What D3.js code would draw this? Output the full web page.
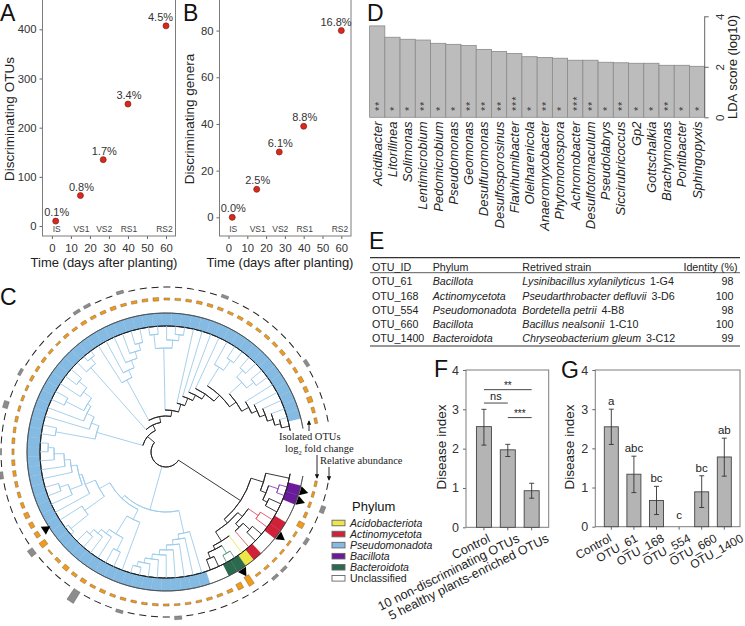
<!DOCTYPE html>
<html>
<head>
<meta charset="utf-8">
<script src="https://cdn.jsdelivr.net/npm/d3@7/dist/d3.min.js"></script>
<style>
    html, body { margin: 0; padding: 0; background: #fff; }
    svg { display: block; font-family: "Liberation Sans", Arial, sans-serif; }
    .frame { fill: none; stroke: #7c7c7c; stroke-width: 1; }
    .axis path { display: none; }
    .axis line { stroke: #666; }
    .axis text { fill: #333; font-family: "Liberation Sans", Arial, sans-serif; }
    .title { fill: #222; font-size: 13px; }
    .letter { fill: #111; font-size: 23px; }
</style>
</head>
<body>
<div id="chart"></div>
<script>
///// DATOS /////
// A, B
let days = [2, 15, 27, 40, 60];
let stages = ['IS', 'VS1', 'VS2', 'RS1', 'RS2'];
let otuCounts = [10, 62, 135, 248, 407];
let otuPct = ['0.1%', '0.8%', '1.7%', '3.4%', '4.5%'];
let genusCounts = [0, 12, 28, 39, 80];
let genusPct = ['0.0%', '2.5%', '6.1%', '8.8%', '16.8%'];
let dayTicks = [0, 10, 20, 30, 40, 50, 60];
let otuTicks = [0, 100, 200, 300, 400];
let genusTicks = [0, 20, 40, 60, 80];

// D
let genera = ['Acidibacter', 'Litorilinea', 'Solimonas', 'Lentimicrobium', 'Pedomicrobium', 'Pseudomonas', 'Geomonas', 'Desulfuromonas', 'Desulfosporosinus', 'Flavihumibacter', 'Oleiharenicola', 'Anaeromyxobacter', 'Phytomonospora', 'Achromobacter', 'Desulfotomaculum', 'Pseudolabrys', 'Siccirubricoccus', 'Gp2', 'Gottschalkia', 'Brachymonas', 'Pontibacter', 'Sphingopyxis'];
let ldaScores = [3.62, 3.17, 3.09, 3.06, 2.93, 2.89, 2.84, 2.69, 2.61, 2.53, 2.40, 2.37, 2.34, 2.26, 2.26, 2.18, 2.16, 2.14, 2.14, 2.06, 2.06, 2.02];
let ldaStars = ['**', '*', '*', '**', '*', '*', '**', '**', '**', '***', '*', '**', '*', '***', '**', '*', '**', '*', '*', '**', '*', '*'];
let ldaTicks = [0, 2, 4];

// E
let tableHeader = ['OTU_ID', 'Phylum', 'Retrived strain', 'Identity (%)'];
let tableOtu = ['OTU_61', 'OTU_168', 'OTU_554', 'OTU_660', 'OTU_1400'];
let tablePhylum = ['Bacillota', 'Actinomycetota', 'Pseudomonadota', 'Bacillota', 'Bacteroidota'];
let tableSpecies = ['Lysinibacillus xylanilyticus', 'Pseudarthrobacter defluvii', 'Bordetella petrii', 'Bacillus nealsonii', 'Chryseobacterium gleum'];
let tableIsolate = ['1-G4', '3-D6', '4-B8', '1-C10', '3-C12'];
let tableIdentity = [98, 100, 98, 100, 99];

// F
let groupNames = ['Control', '10 non-discriminating OTUs', '5 healthy plants-enriched OTUs'];
let groupMeans = [2.56, 1.97, 0.93];
let groupLow = [2.09, 1.80, 0.74];
let groupHigh = [3.0, 2.11, 1.12];
let groupPairs = [[0, 2, '**', 3.5], [0, 1, 'ns', 3.16], [1, 2, '***', 2.79]];

// G
let strainNames = ['Control', 'OTU_61', 'OTU_168', 'OTU_554', 'OTU_660', 'OTU_1400'];
let strainMeans = [2.55, 1.34, 0.67, 0, 0.89, 1.78];
let strainLow = [2.1, 0.87, 0.31, 0, 0.49, 1.29];
let strainHigh = [3.0, 1.80, 1.03, 0, 1.30, 2.26];
let strainLetters = ['a', 'abc', 'bc', 'c', 'bc', 'ab'];
let diseaseTicks = [0, 1, 2, 3, 4];

// C: árbol. Cada nodo es [profundidad, hijo, hijo...], cada hoja el código de su filo
let cladeColored = [89,
    [102, 'U', [108, [118, 'P', 'P'], [113, 'U', 'U']]],
    [94,
        [100, [112, 'R', 'R'], [105, [114, 'U', 'U'], 'R']],
        [105, 'Y', [109, [118, 'G', 'G'], [115, 'U', 'U']]]]];
let cladeBottom = [83, 'B', [88, 'B', [93, 'B', [98, 'B', [103, 'B', [108, 'B', [113, 'B', [118, 'B', 'B']]]]]]]];
let cladeLowerLeft = [75, 'B', [96, [110, 'B', 'B'], [101, 'B', [106, 'B', [112, 'B', 'B']]]]];
let cladeLeft = [76,
    [100, [122, 'B', 'B'], 'B'],
    [87, 'B', [90, [103, 'B', [112, 'B', 'B']], [96, 'B', [102, 'B', [112, 'B', [118, 'B', 'B']]]]]]];
let cladeWest = [72, [112, 'B', 'B'], [80, 'B', [88, 'B', [92, [112, 'B', 'B'], [102, 'B', [112, 'B', 'B']]]]]];
let cladeNorthWest = [113, 'B', [120, 'B', 'B']];
let cladeNorth1 = [82, 'B', [90, 'B', [98, 'B', [105, 'B', [112, 'B', 'B']]]]];
let cladeNorth2 = [104, [118, 'B', 'B'], [112, 'B', [118, 'B', 'B']]];
let cladeEast1 = [100, 'B', [112, 'B', 'B']];
let cladeEast2 = [103, [112, 'B', 'B'], [112, 'B', 'B']];

let ladderEnd = [94, 'B', [100, 'B', [106, 'B', [112, 'B', [118, 'B', 'U']]]]];
let ladderEast = [78, cladeEast1, [86, cladeEast2, ladderEnd]];
let ladderTop = [42, cladeNorth2, [50, 'B', [58, 'B', [64, 'B', [70, 'B', ladderEast]]]]];
let ladder = [24, cladeWest, [30, cladeNorthWest, [36, cladeNorth1, ladderTop]]];
let treeData = [15, cladeColored, [60, cladeBottom, [64, cladeLowerLeft, cladeLeft]], ladder];

let phylumCodes = ['Y', 'R', 'B', 'P', 'G', 'U'];
let phylumNames = ['Acidobacteriota', 'Actinomycetota', 'Pseudomonadota', 'Bacillota', 'Bacteroidota', 'Unclassified'];

let foldChange = [0.8, 0.8, 0.8, 0.9, 2, 0.7, 0.7, 0.7, 0.7, 0.8, 0.7, 3.3, 2, 1, 0.8, 0.8, 0.7, 0.7, 0.6, 0.7,
    0.7, 0.7, 0.7, 0.8, 0.8, 1, 0.8, 1.2, 1, 1.5, 1, 0.5, 2.2, 1.4, 1.4, 1.5, 1, 0.9, 0.9, 1,
    1, 0.7, 0.9, 0.8, 0.9, 0.7, 0.8, 0.7, 0.9, 0.8, 0.9, 0.8, 0.6, 0.9, 0.8, 1, 0.9, 0.9, 1.1, 0.8,
    0.9, 0.9, 1.1, 0.7, 0.7, 0.8, 0.9, 0.9, 0.9, 0.8, 0.9, 1, 0.8, 0.9, 0.9, 1.1, 1, 0.9, 1.3, 1.2, 1.6, 1, 0.9];
let abundance = [0.1, 0.1, 0.45, 0.1, 0.1, 0.35, 0.1, 0.1, 0.3, 0.3, 0.1, 0.1, 0.1, 0.1, 0.1, 0.1, 0.1, 0.1, 0.35, 0.1,
    0.1, 0.1, 0.1, 0.3, 0.1, 0.1, 0.1, 1.3, 0.1, 0.1, 0.1, 0.1, 0.6, 0.1, 0.1, 0.1, 0.1, 0.1, 0.1, 0.35,
    0.1, 0.1, 0.1, 0.1, 0.1, 0.5, 0.1, 0.1, 0.3, 0.1, 0.1, 0.1, 0.1, 0.1, 0.1, 0.3, 0.3, 0.1, 0.1, 0.3,
    0.1, 0.1, 0.1, 0.1, 0.1, 0.1, 0.1, 0.1, 0.3, 0.1, 0.1, 0.1, 0.1, 0.1, 0.1, 0.1, 0.1, 0.35, 0.1, 0.1, 0.1, 0.1, 0.1];
let arrowLeaves = [1, 2, 6, 11];
let arrowLeavesInward = [33];

///// SVG /////
let svg = d3.select('#chart').append('svg').attr('width', 745).attr('height', 626);

function letter(txt, x, y) {
    svg.append('text').attr('class', 'letter').attr('x', x).attr('y', y).text(txt);
}
letter('A', 0, 21);
letter('B', 183, 21);
letter('C', 0, 305);
letter('D', 367, 21);
letter('E', 369, 249);
letter('F', 434, 377);
letter('G', 561, 378);

function yTitle(txt, x, y, size) {
    svg.append('text').attr('class', 'title')
        .attr('transform', 'translate(' + x + ',' + y + ') rotate(-90)')
        .attr('text-anchor', 'middle')
        .style('font-size', size + 'px')
        .text(txt);
}

///// A y B /////
function scatter(o) {
    let x = d3.scaleLinear().domain([0, 60]).range(o.xRange);
    let y = d3.scaleLinear().domain(o.yDomain).range([236, 0]);

    svg.append('g').attr('class', 'axis').attr('transform', 'translate(0,236)')
        .call(d3.axisBottom(x).tickValues(dayTicks).tickSize(3).tickPadding(5))
        .selectAll('text').style('font-size', '11.3px');
    svg.append('g').attr('class', 'axis').attr('transform', 'translate(' + o.left + ',0)')
        .call(d3.axisLeft(y).tickValues(o.ticks).tickSize(3).tickPadding(3))
        .selectAll('text').style('font-size', '11.3px');
    svg.append('rect').attr('class', 'frame')
        .attr('x', o.left).attr('y', -2).attr('width', o.right - o.left).attr('height', 238);

    svg.selectAll(null).data(stages).enter().append('text')
        .attr('x', (d, i) => Math.min(x(days[i]) + 1, o.right - 11))
        .attr('y', 232)
        .attr('text-anchor', 'middle')
        .style('font-size', '8.5px').style('fill', '#444')
        .text(d => d);

    svg.selectAll(null).data(o.values).enter().append('circle')
        .attr('cx', (d, i) => x(days[i]))
        .attr('cy', d => y(d))
        .attr('r', 3)
        .style('fill', '#d9291c').style('stroke', '#7d2015').style('stroke-width', 0.7);

    svg.selectAll(null).data(o.labels).enter().append('text')
        .attr('x', (d, i) => Math.min(x(days[i]) + 1, o.right - 15))
        .attr('y', (d, i) => y(o.values[i]) - 5)
        .attr('text-anchor', 'middle')
        .style('font-size', '11px').style('fill', '#333')
        .text(d => d);

    yTitle(o.title, o.titleX, 119, 13.5);
    svg.append('text').attr('class', 'title')
        .attr('x', o.timeX).attr('y', 267).attr('text-anchor', 'middle')
        .text('Time (days after planting)');
}

scatter({values: otuCounts, labels: otuPct, ticks: otuTicks, yDomain: [-20.3, 459.6],
    xRange: [51.9, 166], left: 42.5, right: 175.5, title: 'Discriminating OTUs', titleX: 13.5, timeX: 104});
scatter({values: genusCounts, labels: genusPct, ticks: genusTicks, yDomain: [-8, 93.1],
    xRange: [228.5, 341.3], left: 219.5, right: 351, title: 'Discriminating genera', titleX: 194, timeX: 280});

///// D /////
let xLda = d3.scaleBand().domain(genera).range([369.6, 704.7]);
let yLda = d3.scaleLinear().domain([0, 4]).range([117.3, 16.3]);

svg.selectAll(null).data(genera).enter().append('rect')
    .attr('x', d => xLda(d))
    .attr('width', xLda.bandwidth())
    .attr('y', (d, i) => yLda(ldaScores[i]))
    .attr('height', (d, i) => yLda(0) - yLda(ldaScores[i]))
    .style('fill', '#bcbcbc').style('stroke', '#8a8a8a').style('stroke-width', 0.8);

svg.selectAll(null).data(genera).enter().append('text')
    .attr('transform', d => 'translate(' + (xLda(d) + xLda.bandwidth() / 2 + 4.5) + ',121.5) rotate(-90)')
    .attr('text-anchor', 'end')
    .style('font-size', '13px').style('font-style', 'italic').style('fill', '#222')
    .text(d => d);

svg.selectAll(null).data(ldaStars).enter().append('text')
    .attr('transform', (d, i) => 'translate(' + (xLda(genera[i]) + xLda.bandwidth() / 2 + 5.5) + ',111) rotate(-90)')
    .style('font-size', '11px').style('letter-spacing', '0.8px').style('fill', '#333')
    .text(d => d);

svg.append('g').attr('class', 'axis').attr('transform', 'translate(704.7,0)')
    .call(d3.axisRight(yLda).tickValues(ldaTicks).tickFormat(d3.format('d')).tickSize(4).tickPadding(4))
    .call(g => g.append('line').attr('y1', yLda(0)).attr('y2', yLda(4)).style('stroke', '#666'))
    .call(g => g.selectAll('.tick text')
        .attr('transform', 'rotate(-90)')
        .attr('x', 0).attr('y', 19).attr('dy', 0)
        .attr('text-anchor', 'middle')
        .style('font-size', '11.5px'));
yTitle('LDA score (log10)', 737, 67, 13);

///// E /////
let tableColumns = [372, 432.7, 522.3];
let rowY = d3.scalePoint().domain(tableOtu).range([285.4, 342]);
let tableStyle = sel => sel.style('font-size', '10.7px').style('fill', '#222');

[257.7, 272.7, 346].forEach(function (y, i) {
    svg.append('line').attr('x1', 370).attr('x2', 740).attr('y1', y).attr('y2', y)
        .style('stroke', '#333').style('stroke-width', i == 1 ? 0.8 : 1.2);
});
tableHeader.forEach(function (t, i) {
    svg.append('text')
        .attr('x', i < 3 ? tableColumns[i] : 737.5).attr('y', 270.5)
        .attr('text-anchor', i < 3 ? 'start' : 'end')
        .call(tableStyle).text(t);
});
tableOtu.forEach(function (t, i) {
    let y = rowY(t);
    svg.append('text').attr('x', tableColumns[0]).attr('y', y).call(tableStyle).text(t);
    svg.append('text').attr('x', tableColumns[1]).attr('y', y).call(tableStyle)
        .style('font-style', 'italic').text(tablePhylum[i]);
    let strain = svg.append('text').attr('x', tableColumns[2]).attr('y', y).attr('xml:space', 'preserve').call(tableStyle);
    strain.append('tspan').style('font-style', 'italic').text(tableSpecies[i]);
    strain.append('tspan').attr('dx', 5).text(tableIsolate[i]);
    svg.append('text').attr('x', 733.5).attr('y', y).attr('text-anchor', 'end').call(tableStyle).text(tableIdentity[i]);
});

///// F y G /////
function barPanel(o) {
    let x = d3.scaleBand().domain(o.names).range(o.xRange);
    let y = d3.scaleLinear().domain([0, 4]).range([o.bottom, 370]);
    let cx = d => x(d) + x.bandwidth() / 2;

    svg.append('g').attr('class', 'axis').attr('transform', 'translate(0,' + o.bottom + ')')
        .call(d3.axisBottom(x).tickSize(3).tickFormat(''));
    svg.append('g').attr('class', 'axis').attr('transform', 'translate(' + o.left + ',0)')
        .call(d3.axisLeft(y).tickValues(diseaseTicks).tickFormat(d3.format('d')).tickSize(3).tickPadding(4))
        .selectAll('text').style('font-size', '12.5px');
    svg.append('rect').attr('class', 'frame')
        .attr('x', o.left).attr('y', 370).attr('width', o.right - o.left).attr('height', o.bottom - 370);

    let visible = o.names.filter((d, i) => o.means[i] > 0);
    let at = d => o.names.indexOf(d);
    svg.selectAll(null).data(visible).enter().append('rect')
        .attr('x', d => cx(d) - o.barWidth / 2)
        .attr('width', o.barWidth)
        .attr('y', d => y(o.means[at(d)]))
        .attr('height', d => y(0) - y(o.means[at(d)]))
        .style('fill', '#b4b4b4').style('stroke', '#444').style('stroke-width', 0.9);

    let err = svg.selectAll(null).data(visible).enter().append('g').style('stroke', '#333').style('stroke-width', 0.9);
    err.append('line').attr('x1', cx).attr('x2', cx)
        .attr('y1', d => y(o.low[at(d)])).attr('y2', d => y(o.high[at(d)]));
    err.append('line').attr('x1', d => cx(d) - 2.5).attr('x2', d => cx(d) + 2.5)
        .attr('y1', d => y(o.low[at(d)])).attr('y2', d => y(o.low[at(d)]));
    err.append('line').attr('x1', d => cx(d) - 2.5).attr('x2', d => cx(d) + 2.5)
        .attr('y1', d => y(o.high[at(d)])).attr('y2', d => y(o.high[at(d)]));

    svg.selectAll(null).data(o.names).enter().append('text')
        .attr('transform', (d, i) => 'translate(' + (cx(d) + o.labelDx + i * o.labelStep) + ',' + (o.bottom + 14) + ') rotate(' + o.labelAngle + ')')
        .attr('text-anchor', 'end')
        .style('font-size', o.labelSize + 'px').style('fill', '#222')
        .text(d => d);

    yTitle('Disease index', o.titleX, 447, 13.5);
    return {x: x, y: y, cx: cx};
}

let panelF = barPanel({names: groupNames, means: groupMeans, low: groupLow, high: groupHigh,
    xRange: [472, 543.6], bottom: 527.3, left: 466, right: 548.7, barWidth: 15,
    labelDx: 7, labelStep: 5.5, labelAngle: -26.5, labelSize: 12.6, titleX: 445.5});

groupPairs.forEach(function (p) {
    let y = panelF.y(p[3]);
    let x1 = panelF.cx(groupNames[p[0]]), x2 = panelF.cx(groupNames[p[1]]);
    svg.append('line').attr('x1', x1).attr('x2', x2).attr('y1', y).attr('y2', y)
        .style('stroke', '#333').style('stroke-width', 0.9);
    svg.append('text').attr('x', (x1 + x2) / 2).attr('y', p[2] == 'ns' ? y - 3 : y - 1)
        .attr('text-anchor', 'middle')
        .style('font-size', p[2] == 'ns' ? '11px' : '10px').style('fill', '#222')
        .text(p[2]);
});

let panelG = barPanel({names: strainNames, means: strainMeans, low: strainLow, high: strainHigh,
    xRange: [600, 735.6], bottom: 526.7, left: 595.3, right: 740, barWidth: 14,
    labelDx: 1, labelStep: 3.8, labelAngle: -29, labelSize: 12, titleX: 574});

svg.selectAll(null).data(strainLetters).enter().append('text')
    .attr('x', (d, i) => panelG.cx(strainNames[i]))
    .attr('y', (d, i) => panelG.y(strainHigh[i]) - (strainHigh[i] == 0 ? 8 : 4))
    .attr('text-anchor', 'middle')
    .style('font-size', '11.5px').style('fill', '#222')
    .text(d => d);

///// C /////
let ringColor = d3.scaleOrdinal().domain(phylumCodes)
    .range(['#ece648', '#cf2238', '#85bbe2', '#6a1b9c', '#2c6a50', '#ffffff']);
let branchColor = d3.scaleOrdinal().domain(phylumCodes)
    .range(['#ece648', '#e2505f', '#9ccbea', '#8a45b8', '#5a9a82', '#222222']);

let tree = d3.hierarchy(treeData, d => Array.isArray(d) ? d.slice(1) : null);
let leaves = tree.leaves();
let rad = d => d * Math.PI / 180;
let angle = d3.scaleLinear().domain([0, leaves.length - 1]).range([rad(102), rad(438.2)]);
let step = angle(1) - angle(0);
let radius = d3.scaleLinear().domain([0, 126]).range([0, 126]);

leaves.forEach((d, i) => { d.idx = i; });
tree.eachAfter(function (d) {
    if (d.children) {
        d.a = (d.children[0].a + d.children[d.children.length - 1].a) / 2;
        d.r = radius(d.data[0]);
        let codes = Array.from(new Set(d.leaves().map(l => l.data)));
        d.code = codes.length == 1 ? codes[0] : 'U';
    } else {
        d.a = angle(d.idx);
        d.r = radius(126);
        d.code = d.data;
    }
});

let c = svg.append('g').attr('transform', 'translate(166,452)');
let arc = d3.arc();
let stem = d3.lineRadial().angle(d => d[0]).radius(d => d[1]);

// Anillo de filos
c.selectAll('.sector').data(leaves).enter().append('path')
    .attr('class', 'sector')
    .attr('d', d => arc({innerRadius: 126, outerRadius: 139, startAngle: d.a - step / 2, endAngle: d.a + step / 2}))
    .style('fill', d => ringColor(d.code))
    .style('stroke', d => ringColor(d.code)).style('stroke-width', 0.3);

[[126, '#222', 1], [139, '#444', 0.7]].forEach(function (b) {
    c.append('path')
        .attr('d', arc({innerRadius: b[0], outerRadius: b[0], startAngle: angle(0) - step / 2, endAngle: angle(leaves.length - 1) + step / 2}))
        .style('fill', 'none').style('stroke', b[1]).style('stroke-width', b[2]);
});

// Árbol, primero los tramos de color y encima los negros
let nodes = tree.descendants().sort((a, b) => (a.code == 'U' ? 1 : 0) - (b.code == 'U' ? 1 : 0));
let branches = c.append('g').style('fill', 'none').style('stroke-width', 0.9);
nodes.forEach(function (d) {
    if (d.parent) {
        branches.append('path')
            .attr('d', stem([[d.a, d.parent.r], [d.a, d.r]]))
            .style('stroke', branchColor(d.code));
    }
    if (d.children) {
        branches.append('path')
            .attr('d', arc({innerRadius: d.r, outerRadius: d.r,
                startAngle: d.children[0].a, endAngle: d.children[d.children.length - 1].a}))
            .style('stroke', branchColor(d.code));
    }
});

// Flechas negras sobre el anillo
let triangle = d3.symbol().type(d3.symbolTriangle).size(40);
c.selectAll(null).data(arrowLeaves).enter().append('path')
    .attr('d', triangle)
    .attr('transform', d => 'rotate(' + (angle(d) * 180 / Math.PI) + ') translate(0,-142.5)')
    .style('fill', '#000');
c.selectAll(null).data(arrowLeavesInward).enter().append('path')
    .attr('d', triangle)
    .attr('transform', d => 'rotate(' + (angle(d) * 180 / Math.PI) + ') translate(0,-143) rotate(180)')
    .style('fill', '#000');

// log2 fold change
let foldSize = d3.scaleLinear().domain([0, 3.5]).range([0, 11]);
c.selectAll(null).data(foldChange).enter().append('path')
    .attr('d', (d, i) => arc({innerRadius: 153 - foldSize(d) / 2, outerRadius: 153 + foldSize(d) / 2,
        startAngle: angle(i) - step * 0.26, endAngle: angle(i) + step * 0.26}))
    .style('fill', '#f09a1e').style('stroke', '#6b5530').style('stroke-width', 0.4);

// Abundancia relativa
let abundanceSize = d3.scaleLinear().domain([0, 1.3]).range([0, 13]);
c.selectAll(null).data(abundance).enter().append('path')
    .attr('d', (d, i) => arc({innerRadius: 164.5, outerRadius: 164.5 + abundanceSize(d),
        startAngle: angle(i) - step * 0.3, endAngle: angle(i) + step * 0.3}))
    .style('fill', d => d < 0.2 ? '#222' : '#8c8c8c')
    .style('stroke', d => d < 0.2 ? 'none' : '#555').style('stroke-width', 0.4);

// Rótulos del anillo
let note = (x, y) => svg.append('text').attr('x', x).attr('y', y)
    .style('font-family', '"Liberation Serif", serif').style('font-size', '10.5px').style('fill', '#222');
note(279, 440).text('Isolated OTUs');
let logLabel = note(285, 452);
logLabel.append('tspan').text('log');
logLabel.append('tspan').attr('dy', 2.5).style('font-size', '6.5px').text('2');
logLabel.append('tspan').attr('dy', -2.5).text(' fold change');
note(320, 464).text('Relative abundance');

svg.append('defs').append('marker').attr('id', 'tip')
    .attr('viewBox', '0 0 6 6').attr('refX', 5).attr('refY', 3)
    .attr('markerWidth', 5).attr('markerHeight', 5).attr('orient', 'auto')
    .append('path').attr('d', 'M0,0L6,3L0,6Z').style('fill', '#111');
[[309, 431, 421], [317, 455, 478], [329, 467, 480]].forEach(function (a) {
    svg.append('line').attr('x1', a[0]).attr('x2', a[0]).attr('y1', a[1]).attr('y2', a[2])
        .attr('marker-end', 'url(#tip)')
        .style('stroke', '#111').style('stroke-width', 0.9);
});

// Leyenda
svg.append('text').attr('x', 352).attr('y', 511).style('font-size', '13px').style('fill', '#111').text('Phylum');
let legendY = d3.scalePoint().domain(phylumNames).range([523, 578.3]);
svg.selectAll(null).data(phylumNames).enter().append('rect')
    .attr('x', 332).attr('width', 13)
    .attr('y', d => legendY(d) - 2.8).attr('height', 5.6)
    .style('fill', (d, i) => ringColor(phylumCodes[i]))
    .style('stroke', '#666').style('stroke-width', 0.9);
svg.selectAll(null).data(phylumNames).enter().append('text')
    .attr('x', 350).attr('y', d => legendY(d) + 3.7)
    .style('font-size', '10.5px').style('fill', '#222')
    .style('font-style', (d, i) => i < 5 ? 'italic' : 'normal')
    .text(d => d);
</script>
</body>
</html>
